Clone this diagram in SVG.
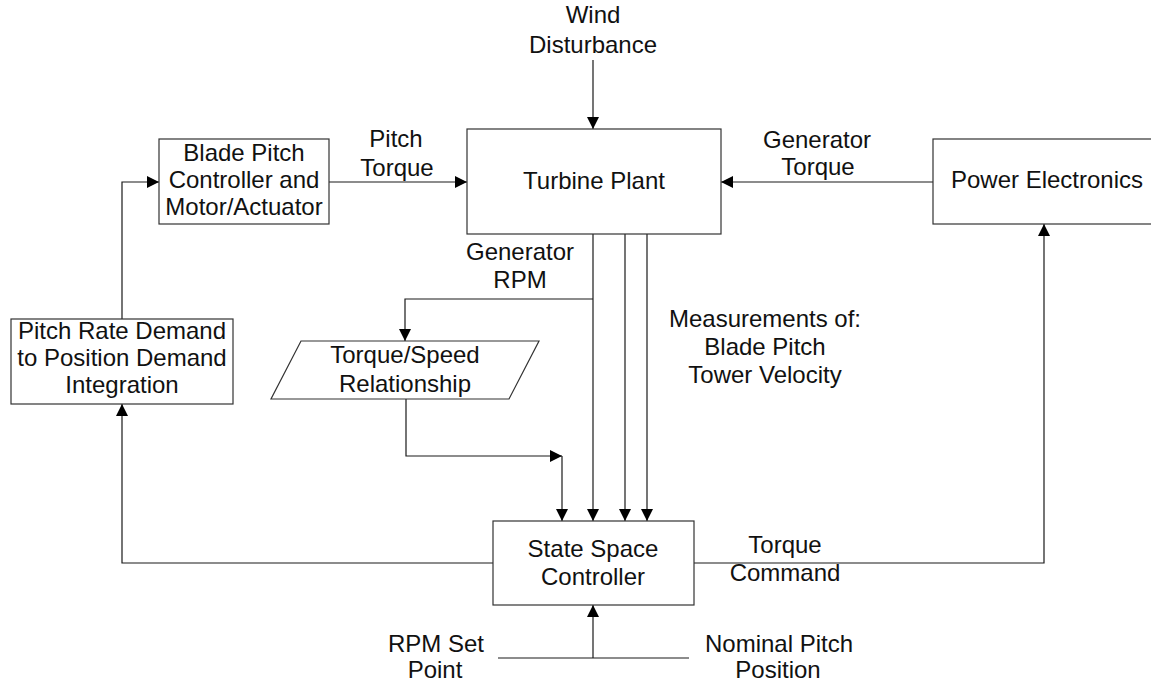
<svg xmlns="http://www.w3.org/2000/svg" width="1151" height="687" viewBox="0 0 1151 687">
  <style>
    .box { fill: #ffffff; stroke: #333333; stroke-width: 1.2; }
    .wire { fill: none; stroke: #1a1a1a; stroke-width: 1.2; }
    .arr { marker-end: url(#head); }
    text { font-family: "Liberation Sans", Arial, sans-serif; font-size: 24px; fill: #111111; text-anchor: middle; }
  </style>
  <defs>
    <marker id="head" markerUnits="userSpaceOnUse" markerWidth="12" markerHeight="12" refX="12" refY="6" orient="auto">
      <path d="M0,0 L12,6 L0,12 z" fill="#000000"/>
    </marker>
  </defs>

  <rect width="1151" height="687" fill="#ffffff"/>

  <!-- signal paths -->
  <g id="connectors">
    <path class="wire arr" d="M593,60 V129"/>
    <path class="wire arr" d="M329,182 H467"/>
    <path class="wire arr" d="M933,182 H721"/>
    <path class="wire arr" d="M122,319 V182 H159"/>
    <path class="wire arr" d="M493,563 H122 V404"/>
    <path class="wire arr" d="M694,563 H1044 V224"/>
    <path class="wire arr" d="M593,234 V521"/>
    <path class="wire arr" d="M593,299 H405 V341"/>
    <path class="wire arr" d="M406,399 V456 H562"/>
    <path class="wire arr" d="M562,456 V521"/>
    <path class="wire arr" d="M625,234 V521"/>
    <path class="wire arr" d="M647,234 V521"/>
    <path class="wire" d="M498,658 H689"/>
    <path class="wire arr" d="M593,658 V605"/>
  </g>

  <g id="blade-pitch-controller">
    <rect class="box" x="159" y="139" width="170" height="85"/>
    <text x="244" y="161">Blade Pitch</text>
    <text x="244" y="188">Controller and</text>
    <text x="244" y="215">Motor/Actuator</text>
  </g>

  <g id="turbine-plant">
    <rect class="box" x="467" y="129" width="254" height="105"/>
    <text x="594" y="189">Turbine Plant</text>
  </g>

  <g id="power-electronics">
    <rect class="box" x="933" y="139" width="230" height="85"/>
    <text x="1047" y="188">Power Electronics</text>
  </g>

  <g id="pitch-integration">
    <rect class="box" x="11" y="319" width="222" height="85"/>
    <text x="122" y="339">Pitch Rate Demand</text>
    <text x="122" y="366">to Position Demand</text>
    <text x="122" y="393">Integration</text>
  </g>

  <g id="torque-speed">
    <polygon class="box" points="301,341 539,341 509,399 271,399"/>
    <text x="405" y="363">Torque/Speed</text>
    <text x="405" y="392">Relationship</text>
  </g>

  <g id="state-space-controller">
    <rect class="box" x="493" y="521" width="201" height="84"/>
    <text x="593" y="557">State Space</text>
    <text x="593" y="585">Controller</text>
  </g>

  <!-- signal labels -->
  <g id="labels">
    <text x="593" y="23">Wind</text>
    <text x="593" y="53">Disturbance</text>
    <text x="396" y="147">Pitch</text>
    <text x="397" y="176">Torque</text>
    <text x="817" y="148">Generator</text>
    <text x="818" y="175">Torque</text>
    <text x="520" y="260">Generator</text>
    <text x="520" y="288">RPM</text>
    <text x="765" y="327">Measurements of:</text>
    <text x="765" y="355">Blade Pitch</text>
    <text x="765" y="383">Tower Velocity</text>
    <text x="785" y="553">Torque</text>
    <text x="785" y="581">Command</text>
    <text x="436" y="652">RPM Set</text>
    <text x="435" y="678">Point</text>
    <text x="779" y="652">Nominal Pitch</text>
    <text x="778" y="678">Position</text>
  </g>
</svg>
